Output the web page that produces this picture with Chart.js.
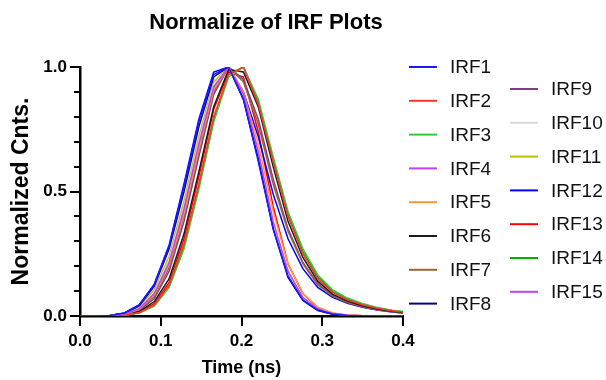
<!DOCTYPE html>
<html>
<head>
<meta charset="utf-8">
<script src="https://cdn.jsdelivr.net/npm/chart.js@4.4.1/dist/chart.umd.min.js"></script>
<style>
  body { margin: 0; background: #fff; }
  #wrap { width: 606px; height: 380px; position: relative; }
</style>
</head>
<body>
<div id="wrap"><canvas id="grafico_irf"></canvas></div>
<script>
// time axis (ns) and the normalized counts of each IRF
const tempos = [0, 0.0184, 0.0368, 0.0552, 0.0736, 0.092, 0.1104, 0.1288, 0.1472, 0.1656, 0.184, 0.2024,
  0.2208, 0.2392, 0.2576, 0.276, 0.2944, 0.3128, 0.3312, 0.3496, 0.368, 0.3864, 0.4048];

const irf1  = [0, 0, 0.002, 0.012, 0.045, 0.125, 0.28, 0.52, 0.78, 0.97, 1.0, 0.87, 0.62, 0.35, 0.16, 0.065, 0.024, 0.008, 0.002, 0.001, 0, 0, 0];
const irf2  = [0, 0, 0.001, 0.003, 0.014, 0.045, 0.125, 0.29, 0.53, 0.80, 0.97, 1.0, 0.85, 0.62, 0.40, 0.25, 0.15, 0.095, 0.065, 0.045, 0.031, 0.021, 0.014];
const irf3  = [0, 0, 0.001, 0.003, 0.012, 0.040, 0.115, 0.27, 0.51, 0.78, 0.96, 1.0, 0.87, 0.64, 0.42, 0.27, 0.165, 0.105, 0.072, 0.050, 0.034, 0.023, 0.016];
const irf4  = [0, 0, 0.001, 0.007, 0.030, 0.090, 0.215, 0.43, 0.69, 0.92, 1.0, 0.89, 0.66, 0.38, 0.18, 0.075, 0.028, 0.009, 0.003, 0.001, 0, 0, 0];
const irf5  = [0, 0, 0.001, 0.006, 0.028, 0.085, 0.205, 0.41, 0.67, 0.91, 1.0, 0.90, 0.69, 0.42, 0.21, 0.09, 0.035, 0.012, 0.004, 0.001, 0, 0, 0];
const irf6  = [0, 0, 0.001, 0.004, 0.018, 0.058, 0.15, 0.33, 0.58, 0.84, 0.99, 0.98, 0.84, 0.60, 0.38, 0.235, 0.14, 0.088, 0.060, 0.041, 0.028, 0.019, 0.013];
const irf7  = [0, 0, 0.001, 0.006, 0.025, 0.078, 0.195, 0.40, 0.66, 0.90, 1.0, 0.94, 0.77, 0.53, 0.34, 0.21, 0.125, 0.080, 0.054, 0.037, 0.025, 0.017, 0.012];
const irf8  = [0, 0, 0.002, 0.011, 0.042, 0.120, 0.27, 0.50, 0.76, 0.96, 1.0, 0.87, 0.63, 0.35, 0.155, 0.062, 0.022, 0.007, 0.002, 0.001, 0, 0, 0];
const irf9  = [0, 0, 0.001, 0.005, 0.022, 0.070, 0.18, 0.38, 0.64, 0.89, 1.0, 0.95, 0.79, 0.55, 0.35, 0.215, 0.13, 0.083, 0.056, 0.038, 0.026, 0.018, 0.012];
const irf10 = [0, 0, 0.001, 0.008, 0.033, 0.095, 0.225, 0.44, 0.70, 0.93, 1.0, 0.88, 0.64, 0.37, 0.17, 0.07, 0.026, 0.009, 0.003, 0.001, 0, 0, 0];
const irf11 = [0, 0, 0.002, 0.009, 0.036, 0.105, 0.24, 0.46, 0.72, 0.94, 1.0, 0.87, 0.63, 0.36, 0.165, 0.068, 0.025, 0.008, 0.003, 0.001, 0, 0, 0];
const irf12 = [0, 0, 0.002, 0.012, 0.046, 0.128, 0.285, 0.53, 0.79, 0.98, 1.0, 0.90, 0.72, 0.49, 0.31, 0.19, 0.115, 0.075, 0.051, 0.035, 0.024, 0.016, 0.011];
const irf13 = [0, 0, 0.001, 0.004, 0.016, 0.050, 0.135, 0.31, 0.56, 0.83, 0.98, 0.96, 0.74, 0.44, 0.21, 0.09, 0.033, 0.011, 0.003, 0.001, 0, 0, 0];
const irf14 = [0, 0, 0.001, 0.003, 0.013, 0.043, 0.12, 0.28, 0.52, 0.79, 0.97, 1.0, 0.86, 0.63, 0.41, 0.26, 0.158, 0.10, 0.068, 0.047, 0.032, 0.022, 0.015];
const irf15 = [0, 0, 0.001, 0.007, 0.029, 0.088, 0.21, 0.42, 0.68, 0.915, 1.0, 0.885, 0.65, 0.37, 0.175, 0.072, 0.027, 0.009, 0.003, 0.001, 0, 0, 0];

const nomes = ['IRF1', 'IRF2', 'IRF3', 'IRF4', 'IRF5', 'IRF6', 'IRF7', 'IRF8',
  'IRF9', 'IRF10', 'IRF11', 'IRF12', 'IRF13', 'IRF14', 'IRF15'];
const series = [irf1, irf2, irf3, irf4, irf5, irf6, irf7, irf8, irf9, irf10, irf11, irf12, irf13, irf14, irf15];
const cores = ['#1a1aff', '#ff3333', '#33cc33', '#bf40ff', '#ff9933', '#1a1a1a', '#996633', '#000080',
  '#804080', '#d9d9d9', '#bfbf00', '#0000ff', '#ff0000', '#00b300', '#bf40ff'];

const xTicks = [0, 0.1, 0.2, 0.3, 0.4];
const yMajor = [0, 0.5, 1];

const fonte = "'Liberation Sans', Arial, sans-serif";

// ticks (major + minor), title and the two-column legend
const extras = {
    id: 'extras',
    afterDraw(chart) {
        const ctx = chart.ctx;
        const sx = chart.scales.x;
        const sy = chart.scales.y;
        ctx.save();
        ctx.strokeStyle = '#000';
        ctx.lineWidth = 2;
        sy.ticks.forEach((tk) => {
            const y = Math.round(sy.getPixelForValue(tk.value));
            const major = yMajor.some((v) => Math.abs(v - tk.value) < 1e-6);
            ctx.beginPath();
            ctx.moveTo(sx.left - (major ? 10 : 6), y);
            ctx.lineTo(sx.left, y);
            ctx.stroke();
        });
        sx.ticks.forEach((tk) => {
            const x = Math.round(sx.getPixelForValue(tk.value));
            ctx.beginPath();
            ctx.moveTo(x, sy.bottom);
            ctx.lineTo(x, sy.bottom + 10);
            ctx.stroke();
        });

        ctx.fillStyle = '#000';
        ctx.font = 'bold 22px ' + fonte;
        ctx.textAlign = 'center';
        ctx.textBaseline = 'middle';
        ctx.fillText('Normalize of IRF Plots', 266, 23);

        ctx.font = '19px ' + fonte;
        ctx.textAlign = 'left';
        chart.data.datasets.forEach((ds, i) => {
            const col = i < 8 ? 0 : 1;
            const row = i < 8 ? i : i - 8;
            const x0 = col === 0 ? 409 : 510;
            const y = (col === 0 ? 67 : 89) + row * 33.8;
            ctx.strokeStyle = ds.borderColor;
            ctx.lineWidth = 2;
            ctx.beginPath();
            ctx.moveTo(x0, y);
            ctx.lineTo(x0 + 28, y);
            ctx.stroke();
            ctx.fillStyle = '#111';
            ctx.fillText(ds.label, x0 + 41, y + 1);
        });
        ctx.restore();
    }
};

new Chart(document.getElementById('grafico_irf'), {
    type: 'line',
    data: {
        datasets: series.map((vals, i) => ({
            label: nomes[i],
            data: vals.map((v, j) => ({ x: tempos[j], y: v })),
            borderColor: cores[i],
            borderWidth: 1.5,
            pointRadius: 0,
            tension: 0,
            fill: false
        }))
    },
    options: {
        responsive: true,
        maintainAspectRatio: false,
        animation: false,
        layout: { padding: { top: 67, right: 203, left: 0, bottom: 0 } },
        plugins: {
            legend: { display: false },
            title: { display: false },
            tooltip: { enabled: false }
        },
        scales: {
            x: {
                type: 'linear',
                min: 0,
                max: 0.4,
                afterBuildTicks: (scale) => { scale.ticks = xTicks.map((v) => ({ value: v })); },
                afterFit: (scale) => { scale.height = 64; },
                grid: { display: false, drawTicks: true, tickLength: 10 },
                border: { display: true, color: '#000', width: 2.5 },
                ticks: {
                    color: '#000',
                    padding: 5,
                    font: { family: fonte, size: 17, weight: 'bold' },
                    callback: (v) => v.toFixed(1)
                },
                title: {
                    display: true,
                    text: 'Time (ns)',
                    color: '#000',
                    padding: { top: 0, bottom: 1 },
                    font: { family: fonte, size: 18, weight: 'bold' }
                }
            },
            y: {
                min: 0,
                max: 1,
                afterFit: (scale) => { scale.width = 80; },
                grid: { display: false, drawTicks: true, tickLength: 10 },
                border: { display: true, color: '#000', width: 2.5 },
                ticks: {
                    stepSize: 0.1,
                    color: '#000',
                    padding: 3,
                    autoSkip: false,
                    font: { family: fonte, size: 17, weight: 'bold' },
                    callback: (v) => yMajor.some((m) => Math.abs(m - v) < 1e-6) ? v.toFixed(1) : ''
                },
                title: {
                    display: true,
                    text: 'Normalized Cnts.',
                    color: '#000',
                    padding: { top: 8, bottom: 0 },
                    font: { family: fonte, size: 23, weight: 'bold' }
                }
            }
        }
    },
    plugins: [extras]
});
</script>
</body>
</html>
